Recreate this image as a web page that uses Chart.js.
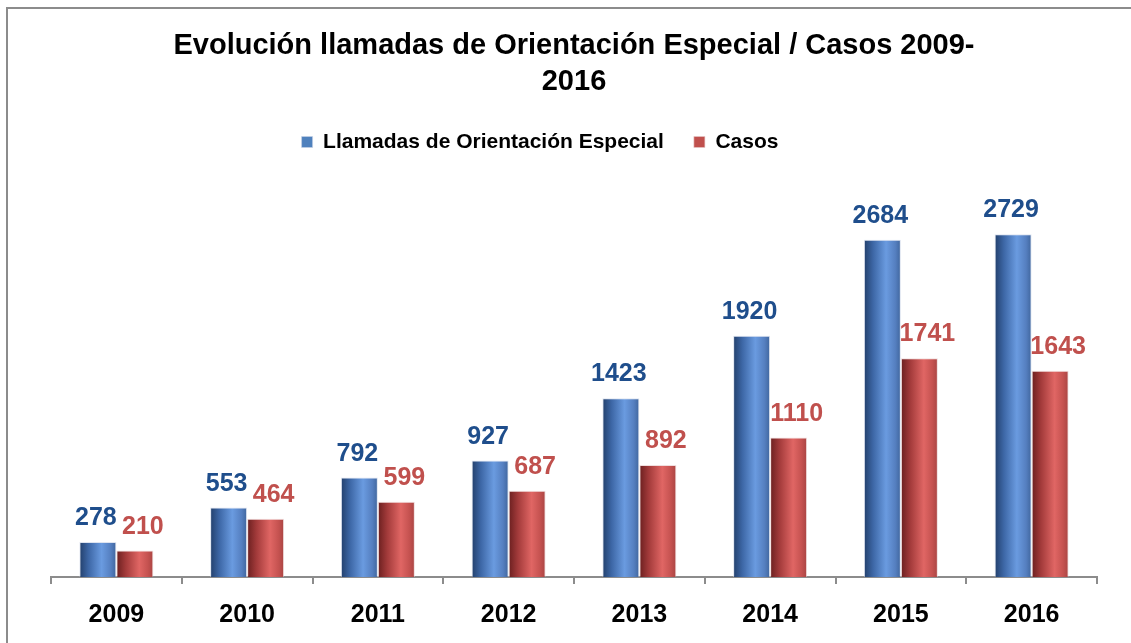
<!DOCTYPE html>
<html>
<head>
<meta charset="utf-8">
<script src="https://cdn.jsdelivr.net/npm/chart.js@4/dist/chart.umd.min.js"></script>
<style>
  html, body { margin: 0; padding: 0; background: #ffffff; overflow: hidden; }
  #wrap { position: absolute; left: 0; top: 0; width: 1131px; height: 643px; }
  #frame { position: absolute; left: 6px; top: 7px; width: 1200px; height: 700px;
           border-left: 2px solid #8c8c8c; border-top: 2px solid #8c8c8c; pointer-events: none; }
</style>
</head>
<body>
<div id="wrap"><canvas id="c" width="1131" height="643"></canvas></div>
<div id="frame"></div>
<script>
const titleLines = ['Evolución llamadas de Orientación Especial / Casos 2009-', '2016'];
const years = ['2009', '2010', '2011', '2012', '2013', '2014', '2015', '2016'];
const llamadas = [278, 553, 792, 927, 1423, 1920, 2684, 2729];
const casos = [210, 464, 599, 687, 892, 1110, 1741, 1643];
const seriesNames = ['Llamadas de Orientación Especial', 'Casos'];

const FONT = '"Liberation Sans", Arial, sans-serif';

const gradStops = [
  [[0, '#223f6b'], [0.25, '#3d67a6'], [0.6, '#6a9be0'], [0.85, '#557fc0'], [1, '#3f659c']],
  [[0, '#6a1f1f'], [0.25, '#a23a3a'], [0.62, '#e06664'], [0.85, '#c55250'], [1, '#a84442']]
];
const labelColors = ['#1f4e8c', '#c0504d'];
const labelDx = [-2, 8];

const gradientPlugin = {
  id: 'barGradient',
  afterLayout(chart) {
    if (chart.legend) { chart.legend.left -= 34; chart.legend.right -= 34; }
  },
  beforeDatasetsDraw(chart) {
    const ctx = chart.ctx;
    chart.data.datasets.forEach((ds, di) => {
      const meta = chart.getDatasetMeta(di);
      meta.data.forEach(el => {
        const x0 = el.x - el.width / 2, x1 = el.x + el.width / 2;
        const g = ctx.createLinearGradient(x0, 0, x1, 0);
        gradStops[di].forEach(s => g.addColorStop(s[0], s[1]));
        el.options = Object.assign({}, el.options, { backgroundColor: g });
      });
    });
  }
};

const labelPlugin = {
  id: 'valueLabels',
  afterDatasetsDraw(chart) {
    const ctx = chart.ctx;
    ctx.save();
    ctx.font = 'bold 25px ' + FONT;
    ctx.textAlign = 'center';
    ctx.textBaseline = 'alphabetic';
    chart.data.datasets.forEach((ds, di) => {
      const meta = chart.getDatasetMeta(di);
      ctx.fillStyle = labelColors[di];
      meta.data.forEach((el, i) => {
        ctx.fillText(String(ds.data[i]), el.x + labelDx[di], el.y - 17);
      });
    });
    ctx.restore();
  }
};

new Chart(document.getElementById('c'), {
  type: 'bar',
  data: {
    labels: years,
    datasets: [
      { label: seriesNames[0], data: llamadas, backgroundColor: '#4f81bd',
        borderColor: 'rgba(200,210,230,0.6)', borderWidth: 1,
        barPercentage: 1.0, categoryPercentage: 0.566 },
      { label: seriesNames[1], data: casos, backgroundColor: '#c0504d',
        borderColor: 'rgba(230,200,200,0.6)', borderWidth: 1,
        barPercentage: 1.0, categoryPercentage: 0.566 }
    ]
  },
  options: {
    responsive: false,
    animation: false,
    devicePixelRatio: 1,
    layout: { padding: { left: 51, right: 34, top: 28, bottom: -3 } },
    plugins: {
      title: {
        display: true,
        text: titleLines,
        color: '#000000',
        font: { family: FONT, size: 29, weight: 'bold', lineHeight: 1.25 },
        padding: { top: 0, bottom: 1 }
      },
      legend: {
        display: true,
        position: 'top',
        labels: {
          color: '#000000',
          font: { family: FONT, size: 21, weight: 'bold' },
          boxWidth: 11, boxHeight: 11, padding: 30
        }
      },
      tooltip: { enabled: false }
    },
    scales: {
      x: {
        offset: true,
        grid: { display: true, drawOnChartArea: false, drawTicks: true, tickLength: 7,
                offset: true, color: '#8c8c8c', lineWidth: 2 },
        border: { display: true, color: '#8c8c8c', width: 2 },
        ticks: { color: '#000000', padding: 16, font: { family: FONT, size: 25, weight: 'bold' } }
      },
      y: {
        display: false,
        min: 0, max: 3300
      }
    }
  },
  plugins: [gradientPlugin, labelPlugin]
});
</script>
</body>
</html>
